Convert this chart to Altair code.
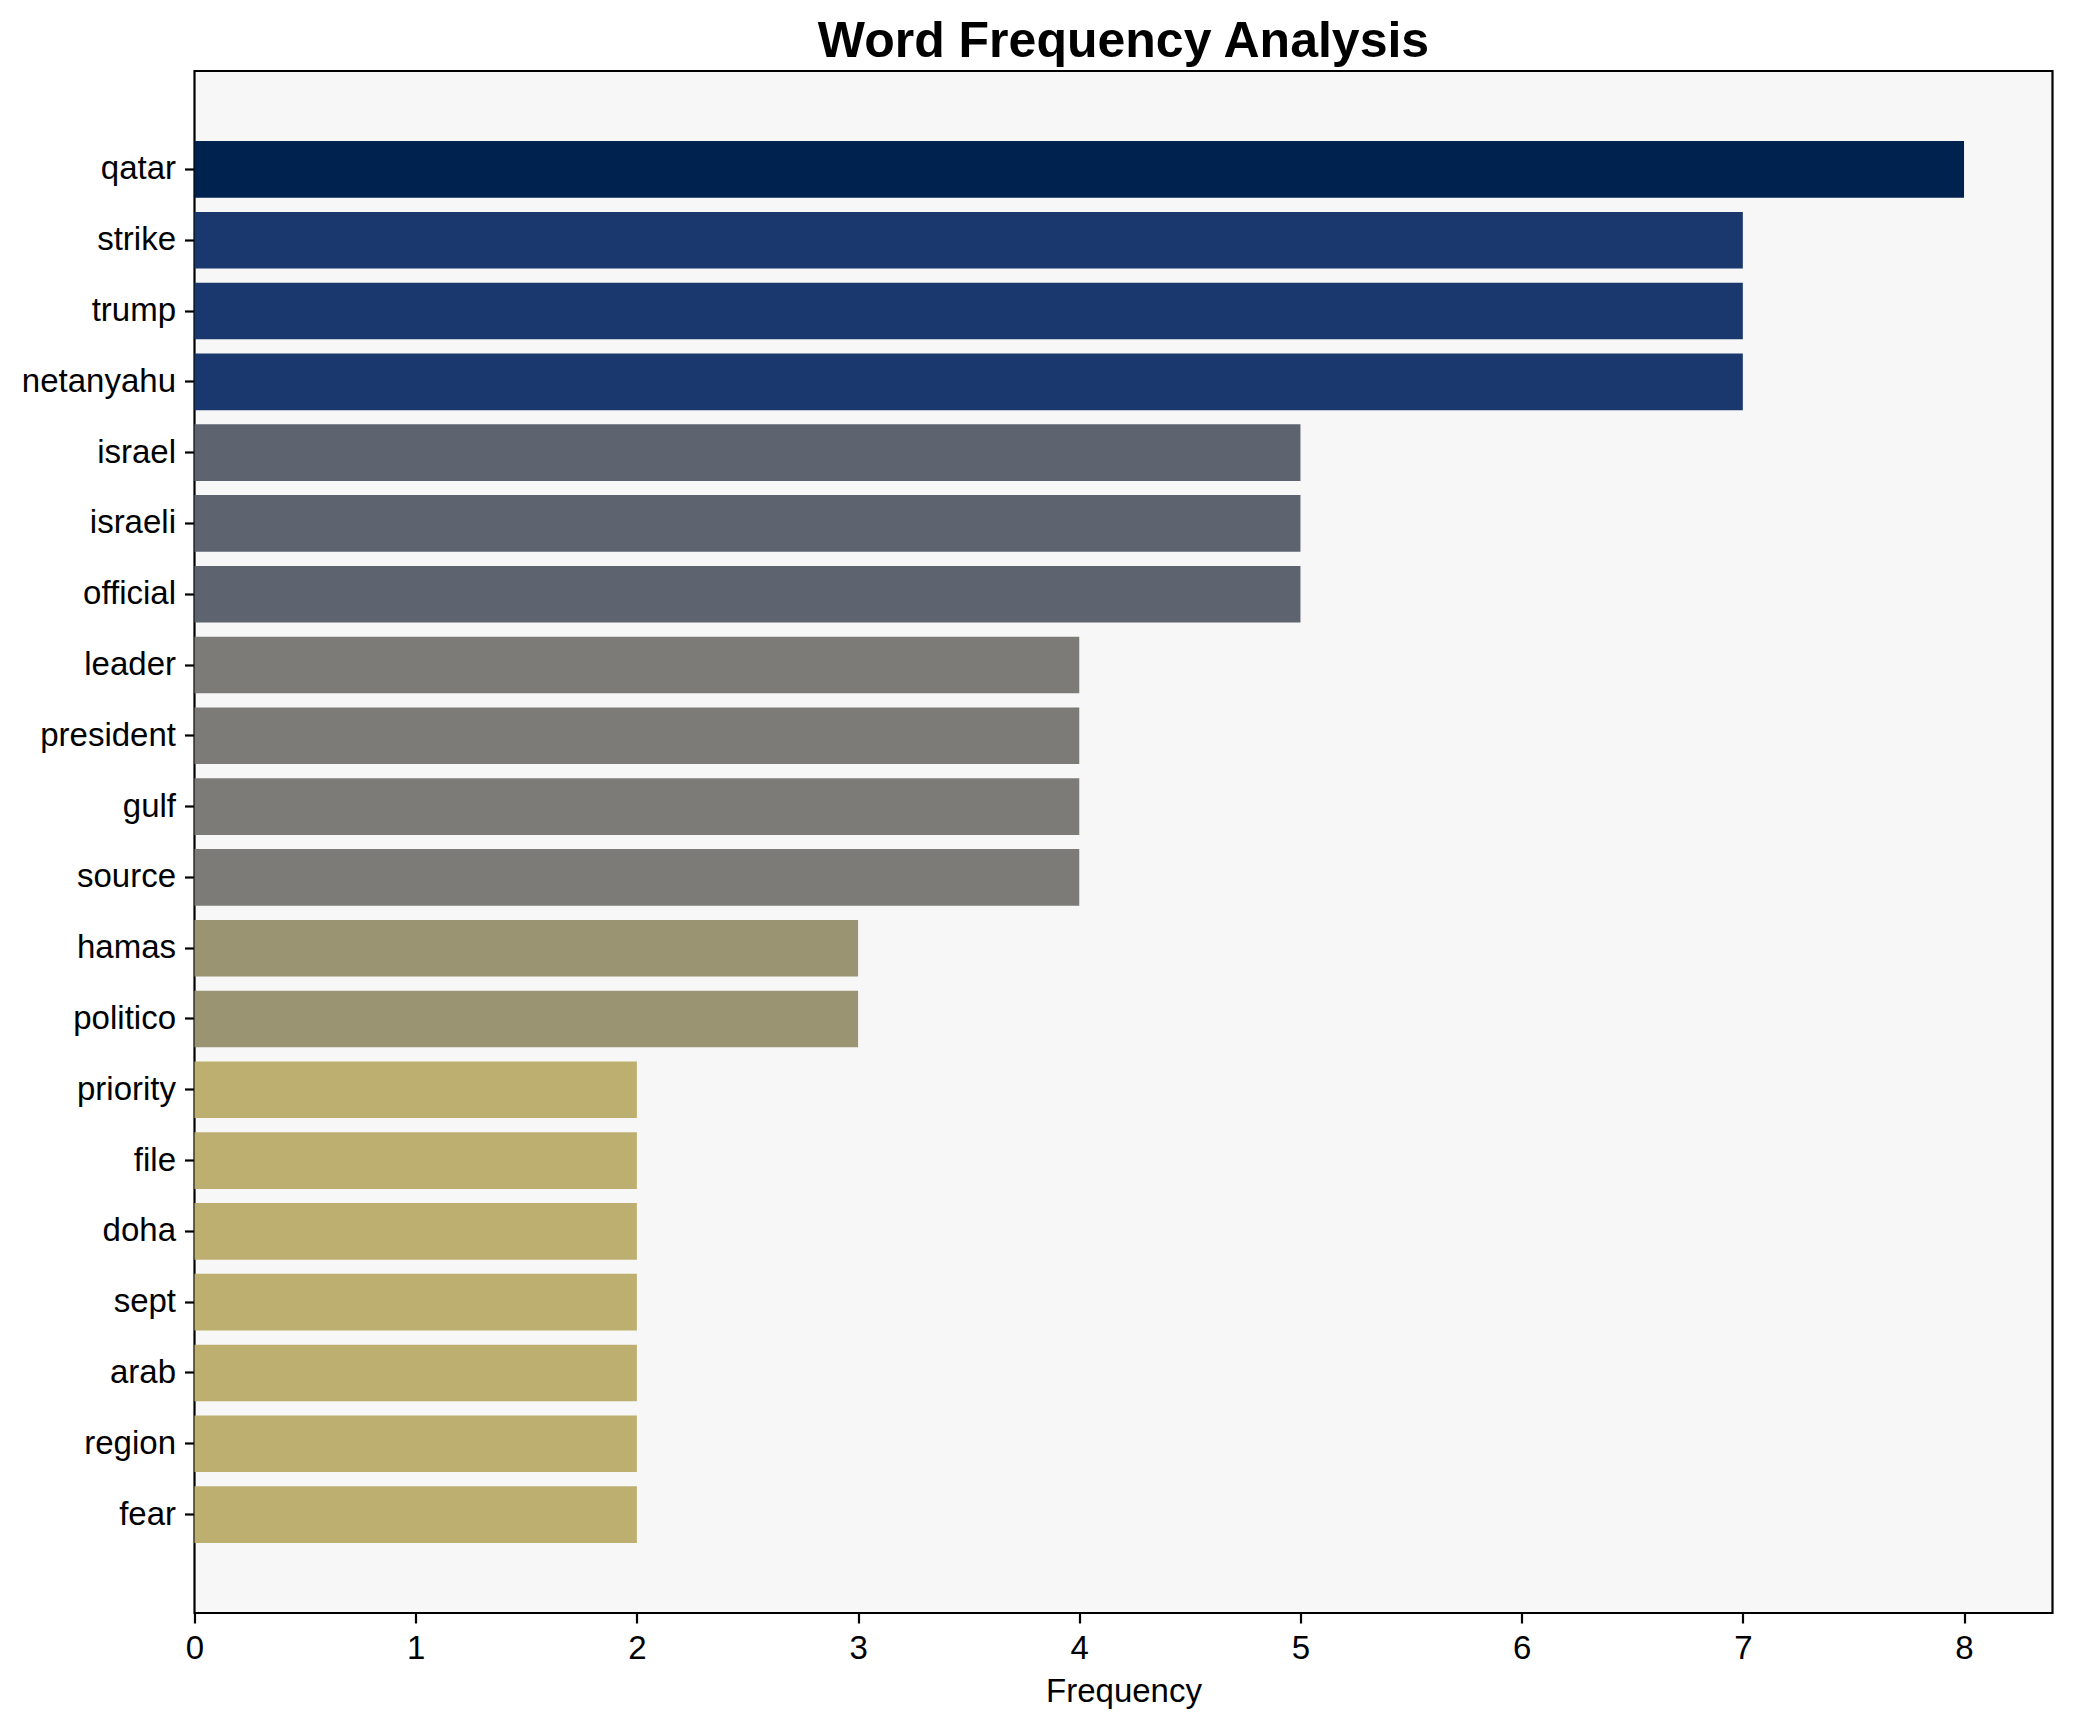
import altair as alt
import pandas as pd

words = ["qatar", "strike", "trump", "netanyahu", "israel", "israeli", "official",
         "leader", "president", "gulf", "source", "hamas", "politico", "priority",
         "file", "doha", "sept", "arab", "region", "fear"]
freqs = [8, 7, 7, 7, 5, 5, 5, 4, 4, 4, 4, 3, 3, 2, 2, 2, 2, 2, 2, 2]

color_domain = [8, 7, 5, 4, 3, 2]
color_range = ["#00224f", "#1a386d", "#5e6370", "#7c7b77", "#9b9473", "#bcaf6f"]

df = pd.DataFrame({"word": words, "freq": freqs})

FONT = "Liberation Sans"

chart = (
    alt.Chart(df)
    .mark_bar()
    .encode(
        y=alt.Y("word:N", sort=words, title=None,
                scale=alt.Scale(paddingInner=0.2, paddingOuter=0.99),
                axis=alt.Axis(labelFontSize=33, labelFont=FONT, labelColor="black",
                              tickSize=10, tickWidth=2.2, tickColor="black",
                              labelPadding=9, domain=False)),
        x=alt.X("freq:Q", title="Frequency",
                scale=alt.Scale(domain=[0, 8.4], nice=False, zero=True),
                axis=alt.Axis(values=list(range(0, 9)), grid=False,
                              labelFontSize=33, labelFont=FONT, labelColor="black",
                              titleFontSize=33, titleFont=FONT, titleFontWeight="normal",
                              titleColor="black", titlePadding=10,
                              tickSize=10, tickWidth=2.2, tickColor="black",
                              labelPadding=9, domain=False, labelFlush=False)),
        color=alt.Color("freq:O", scale=alt.Scale(domain=color_domain, range=color_range),
                        legend=None),
    )
    .properties(
        width=1858,
        height=1542,
        background="white",
        autosize=alt.AutoSizeParams(type="none"),
        padding={"left": 186.5, "top": 63, "right": 14, "bottom": 101},
        title=alt.TitleParams("Word Frequency Analysis", fontSize=50, font=FONT,
                              fontWeight="bold", color="black", anchor="middle",
                              baseline="alphabetic", offset=17, dy=53),
    )
    .configure_view(fill="#f7f7f7", stroke="black", strokeWidth=2.2)
)

chart.save("out.html", embed_options={"renderer": "svg", "actions": False})
